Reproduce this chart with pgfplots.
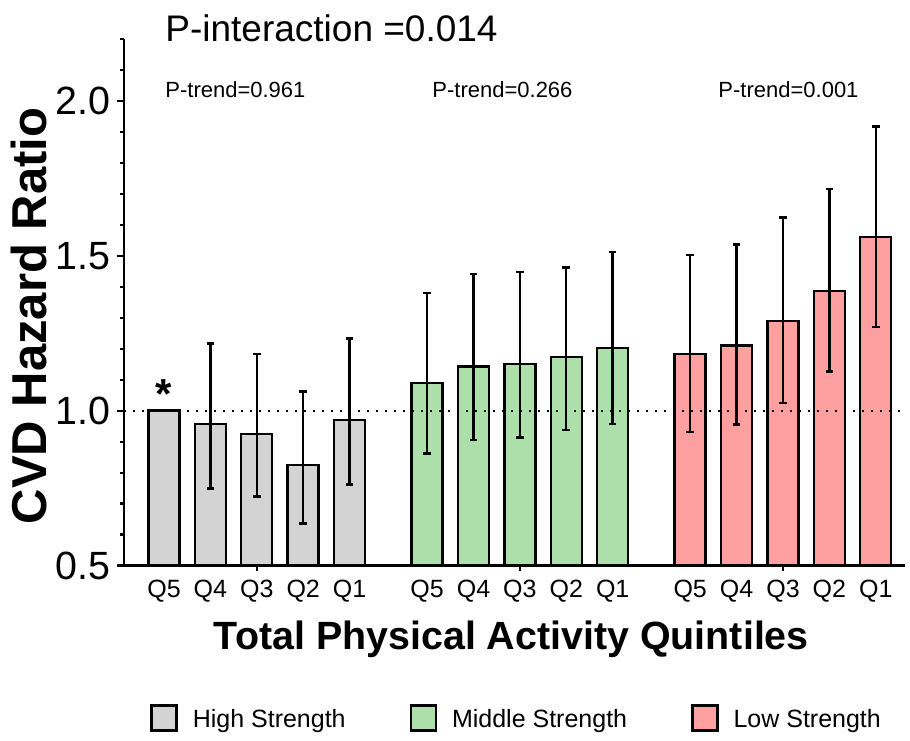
\documentclass[border=0pt]{standalone}
\usepackage{pgfplots}
\usepackage{pgfplotstable}
\pgfplotsset{compat=1.18}
\usepackage{fontspec}
\setmainfont{Liberation Sans}
\definecolor{hsgray}{RGB}{211,211,211}
\definecolor{msgreen}{RGB}{173,223,170}
\definecolor{lspink}{RGB}{255,160,160}
\pgfplotstableread{
x y ep em
0 1.000 0 0
1 0.957 0.260 0.208
2 0.925 0.258 0.202
3 0.824 0.238 0.188
4 0.970 0.263 0.208
}\high
\pgfplotstableread{
x y ep em
5.67 1.090 0.290 0.228
6.67 1.143 0.299 0.237
7.67 1.151 0.297 0.238
8.67 1.173 0.290 0.235
9.67 1.203 0.309 0.246
}\middle
\pgfplotstableread{
x y ep em
11.34 1.184 0.319 0.253
12.34 1.211 0.326 0.256
13.34 1.290 0.334 0.266
14.34 1.387 0.329 0.260
15.34 1.560 0.358 0.290
}\low
\pgfplotstableread{
x y
-0.862 1
15.97 1
}\refline
\begin{document}
\begin{tikzpicture}
\path (0,0) rectangle (455pt,370pt);
\begin{axis}[
  at={(62pt,87.25pt)}, anchor=south west,
  scale only axis, width=390.5pt, height=263.2pt,
  xmin=-0.862, xmax=15.97, ymin=0.5, ymax=2.2,
  axis lines*=left,
  axis line style={line width=1.1pt},
  every tick/.style={black, line width=1.1pt},
  tick align=outside,
  major tick length=3.5pt, minor tick length=2pt,
  ytick={0.5,1.0,1.5,2.0},
  minor ytick={0.6,0.7,0.8,0.9,1.1,1.2,1.3,1.4,1.6,1.7,1.8,1.9,2.1,2.2},
  yticklabel style={/pgf/number format/fixed, /pgf/number format/fixed zerofill, /pgf/number format/precision=1, font=\fontsize{19.7}{22}\selectfont},
  /pgf/number format/assume math mode=true,
  xtick={0,1,2,3,4,5.67,6.67,7.67,8.67,9.67,11.34,12.34,13.34,14.34,15.34},
  xticklabels={Q5,Q4,Q3,Q2,Q1,Q5,Q4,Q3,Q2,Q1,Q5,Q4,Q3,Q2,Q1},
  xtick style={draw=none},
  xticklabel style={font=\fontsize{12.5}{14}\selectfont},
  extra x ticks={2,7.67,13.34},
  extra x tick labels={},
  extra x tick style={xtick style={draw=black}, major tick length=2.5pt},
  ylabel={\bfseries CVD Hazard Ratio},
  ylabel style={at={(axis description cs:-0.1216,0.474)}, anchor=center, font=\fontsize{24.5}{28}\selectfont},
  xlabel={\bfseries Total Physical Activity Quintiles},
  xlabel style={at={(axis description cs:0.496,-0.1605)}, anchor=base, font=\fontsize{19.7}{22}\selectfont},
  error bars/error bar style={line width=1.2pt, black},
  error bars/error mark options={line width=1.2pt, mark size=1.9pt, black, rotate=90},
  legend columns=3,
  legend style={at={(axis description cs:0.0333,-0.29)}, anchor=west, draw=none, fill=none,
    font=\fontsize{12.5}{15}\selectfont, inner sep=0pt,
    /tikz/every odd column/.append style={column sep=7.5pt},
    /tikz/every even column/.append style={column sep=32pt},
    nodes={inner sep=0pt, text depth=0pt}},
  legend image code/.code={\draw[#1, line width=1.2pt] (0pt,-6pt) rectangle (12.5pt,6.5pt);},
  clip=false,
]
\addplot[ybar, bar width=15.5pt, bar shift=0pt, fill=hsgray, draw=black, line width=1.2pt, forget plot,
  error bars/.cd, y dir=both, y explicit]
  table[x=x, y=y, y error plus=ep, y error minus=em]{\high};
\addplot[ybar, bar width=15.5pt, bar shift=0pt, fill=msgreen, draw=black, line width=1.2pt, forget plot,
  error bars/.cd, y dir=both, y explicit]
  table[x=x, y=y, y error plus=ep, y error minus=em]{\middle};
\addplot[ybar, bar width=15.5pt, bar shift=0pt, fill=lspink, draw=black, line width=1.2pt, forget plot,
  error bars/.cd, y dir=both, y explicit]
  table[x=x, y=y, y error plus=ep, y error minus=em]{\low};
\addplot[black, line width=1pt, dash pattern=on 1pt off 3.5pt, forget plot] table[x=x,y=y]{\refline};
\addlegendimage{fill=hsgray, draw=black}
\addlegendentry{High Strength}
\addlegendimage{fill=msgreen, draw=black}
\addlegendentry{Middle Strength}
\addlegendimage{fill=lspink, draw=black}
\addlegendentry{Low Strength}
\node[anchor=base, font=\fontsize{21}{22}\selectfont\bfseries, yshift=1pt] at (axis cs:0,1.0) {*};
\node[anchor=base west, font=\fontsize{18.5}{21}\selectfont, inner sep=0pt] at (axis description cs:0.0525,0.9945) {P-interaction =0.014};
\node[anchor=base west, font=\fontsize{11}{13}\selectfont, inner sep=0pt] at (axis description cs:0.0525,0.889) {P-trend=0.961};
\node[anchor=base west, font=\fontsize{11}{13}\selectfont, inner sep=0pt] at (axis description cs:0.3944,0.889) {P-trend=0.266};
\node[anchor=base west, font=\fontsize{11}{13}\selectfont, inner sep=0pt] at (axis description cs:0.7606,0.889) {P-trend=0.001};
\end{axis}
\end{tikzpicture}
\end{document}
